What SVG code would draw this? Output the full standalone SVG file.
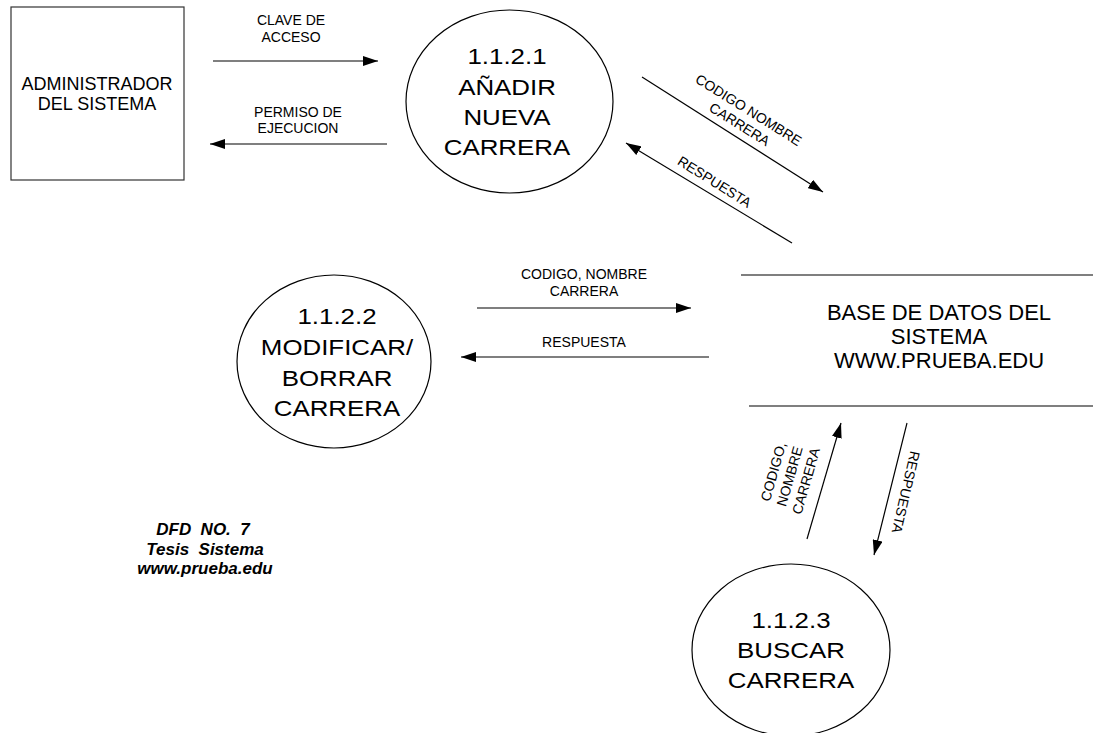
<svg xmlns="http://www.w3.org/2000/svg" width="1095" height="733" viewBox="0 0 1095 733">
<style>
text{font-family:"Liberation Sans",Arial,sans-serif;fill:#000;text-anchor:middle}
.lbl{font-size:14px}
.big{font-size:22.5px}
.ent{font-size:18px}
.ds{font-size:22px}
.ttl{font-size:17px;font-weight:bold;font-style:italic;white-space:pre}
.shape{fill:#fff;stroke:#000;stroke-width:1.2}
.flow{stroke:#000;stroke-width:1.2;fill:none;marker-end:url(#ah)}
.store{stroke:#555;stroke-width:1.5}
</style>
<defs>
<marker id="ah" markerUnits="userSpaceOnUse" markerWidth="16" markerHeight="10" refX="15" refY="5" orient="auto">
<path d="M0,0 L15,5 L0,10 z" fill="#000"/>
</marker>
</defs>
<rect width="1095" height="733" fill="#fff"/>

<g id="admin">
<rect class="shape" x="11" y="7" width="173" height="173" style="stroke:#333"/>
<text class="ent" x="97" y="90">ADMINISTRADOR</text>
<text class="ent" x="97" y="110">DEL SISTEMA</text>
</g>

<g id="p1121">
<ellipse class="shape" cx="509.5" cy="101.5" rx="103.5" ry="91.5"/>
<g transform="translate(507 0) scale(1.15 1)">
<text class="big" x="0" y="64">1.1.2.1</text>
<text class="big" x="0" y="95">AÑADIR</text>
<text class="big" x="0" y="125">NUEVA</text>
<text class="big" x="0" y="155">CARRERA</text>
</g>
</g>

<g id="p1122">
<ellipse class="shape" cx="334" cy="361.5" rx="97" ry="86.5"/>
<g transform="translate(337 0) scale(1.15 1)">
<text class="big" x="0" y="324">1.1.2.2</text>
<text class="big" x="0" y="355">MODIFICAR/</text>
<text class="big" x="0" y="386">BORRAR</text>
<text class="big" x="0" y="416">CARRERA</text>
</g>
</g>

<g id="p1123">
<ellipse class="shape" cx="791" cy="650" rx="99" ry="86"/>
<g transform="translate(791 0) scale(1.15 1)">
<text class="big" x="0" y="628">1.1.2.3</text>
<text class="big" x="0" y="658">BUSCAR</text>
<text class="big" x="0" y="688">CARRERA</text>
</g>
</g>

<g id="datastore">
<line class="store" x1="741" y1="275" x2="1093" y2="275"/>
<line class="store" x1="749" y1="406" x2="1093" y2="406"/>
<text class="ds" x="939" y="320">BASE DE DATOS DEL</text>
<text class="ds" x="939" y="344">SISTEMA</text>
<text class="ds" x="939" y="368">WWW.PRUEBA.EDU</text>
</g>

<g id="connectors">
<line class="flow" x1="213" y1="61" x2="378" y2="61"/>
<text class="lbl" x="291" y="25">CLAVE DE</text>
<text class="lbl" x="291" y="42">ACCESO</text>

<line class="flow" x1="387" y1="144" x2="210" y2="144"/>
<text class="lbl" x="298" y="117">PERMISO DE</text>
<text class="lbl" x="298" y="133">EJECUCION</text>

<line class="flow" x1="642" y1="77" x2="823" y2="192"/>
<text class="lbl" transform="translate(746,114) rotate(32)"><tspan x="0" y="0">CODIGO NOMBRE</tspan><tspan x="0" y="17">CARRERA</tspan></text>

<line class="flow" x1="792" y1="243" x2="626" y2="143"/>
<text class="lbl" transform="translate(712,186) rotate(32)">RESPUESTA</text>

<line class="flow" x1="477" y1="308" x2="691" y2="308"/>
<text class="lbl" x="584" y="279">CODIGO, NOMBRE</text>
<text class="lbl" x="584" y="296">CARRERA</text>

<line class="flow" x1="709" y1="357" x2="461" y2="357"/>
<text class="lbl" x="584" y="347">RESPUESTA</text>

<line class="flow" x1="807" y1="539" x2="841" y2="423"/>
<text class="lbl" transform="translate(778,473) rotate(-74)"><tspan x="0" y="0">CODIGO,</tspan><tspan x="0" y="17">NOMBRE</tspan><tspan x="0" y="34">CARRERA</tspan></text>

<line class="flow" x1="907" y1="423" x2="874" y2="555"/>
<text class="lbl" transform="translate(901,491) rotate(103)">RESPUESTA</text>
</g>

<g id="title">
<text class="ttl" x="203" y="535">DFD  NO.  7</text>
<text class="ttl" x="205" y="555">Tesis  Sistema</text>
<text class="ttl" x="205" y="574">www.prueba.edu</text>
</g>
</svg>
